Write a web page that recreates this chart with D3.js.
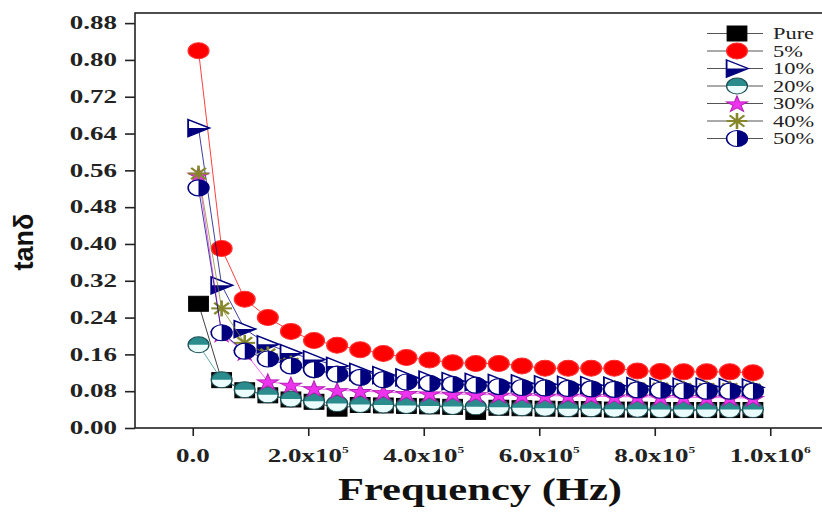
<!DOCTYPE html>
<html>
<head>
<meta charset="utf-8">
<script src="https://cdn.jsdelivr.net/npm/d3@7"></script>
<style>
  body { margin: 0; background: #fff; }
  svg { display: block; }
</style>
</head>
<body>
<svg id="chart" width="822" height="513"></svg>
<script>
// frequency (Hz) of each measured point
const freq = [10000, 50000, 90000, 130000, 170000, 210000, 250000, 290000, 330000,
  370000, 410000, 450000, 490000, 530000, 570000, 610000, 650000, 690000, 730000,
  770000, 810000, 850000, 890000, 930000, 970000];

const seriesNames = ["Pure", "5%", "10%", "20%", "30%", "40%", "50%"];

const pure = [0.27, 0.104, 0.082, 0.071, 0.062, 0.057, 0.042, 0.05, 0.049, 0.048, 0.047, 0.046, 0.035,
  0.044, 0.043, 0.042, 0.041, 0.041, 0.04, 0.04, 0.039, 0.039, 0.039, 0.039, 0.039];
const pct5 = [0.82, 0.39, 0.28, 0.24, 0.21, 0.19, 0.18, 0.17, 0.162, 0.153, 0.148, 0.142, 0.14,
  0.14, 0.135, 0.13, 0.13, 0.13, 0.13, 0.124, 0.123, 0.122, 0.122, 0.122, 0.12];
const pct10 = [0.652, 0.31, 0.215, 0.182, 0.163, 0.149, 0.135, 0.122, 0.115, 0.11, 0.105, 0.102, 0.1,
  0.098, 0.097, 0.095, 0.094, 0.093, 0.092, 0.091, 0.09, 0.09, 0.09, 0.089, 0.088];
const pct20 = [0.181, 0.105, 0.083, 0.072, 0.063, 0.058, 0.053, 0.051, 0.05, 0.049, 0.048, 0.047, 0.046,
  0.045, 0.044, 0.043, 0.042, 0.042, 0.041, 0.041, 0.04, 0.04, 0.04, 0.04, 0.04];
const pct30 = [0.55, 0.205, 0.165, 0.101, 0.094, 0.086, 0.082, 0.08, 0.078, 0.076, 0.075, 0.074, 0.073,
  0.072, 0.071, 0.07, 0.07, 0.069, 0.068, 0.068, 0.067, 0.067, 0.066, 0.066, 0.065];
const pct40 = [0.553, 0.26, 0.185, 0.16, 0.14, 0.125, 0.115, 0.108, 0.103, 0.1, 0.097, 0.095, 0.093,
  0.091, 0.09, 0.089, 0.088, 0.087, 0.087, 0.086, 0.086, 0.085, 0.085, 0.085, 0.084];
const pct50 = [0.522, 0.207, 0.167, 0.15, 0.135, 0.127, 0.117, 0.11, 0.105, 0.1, 0.097, 0.095, 0.093,
  0.09, 0.088, 0.087, 0.086, 0.085, 0.084, 0.083, 0.082, 0.081, 0.08, 0.08, 0.08];

const yTicks = [0, 0.08, 0.16, 0.24, 0.32, 0.40, 0.48, 0.56, 0.64, 0.72, 0.80, 0.88];
const xTicks = [0, 200000, 400000, 600000, 800000, 1000000];
const xTickText = [["0.0", ""], ["2.0x10", "5"], ["4.0x10", "5"], ["6.0x10", "5"], ["8.0x10", "5"], ["1.0x10", "6"]];

const series = [
  { name: seriesNames[0], values: pure, color: "#000000", shape: "square" },
  { name: seriesNames[1], values: pct5, color: "#ff0000", shape: "circle" },
  { name: seriesNames[2], values: pct10, color: "#00007f", shape: "triangle" },
  { name: seriesNames[3], values: pct20, color: "#2a8c8c", shape: "halfTop" },
  { name: seriesNames[4], values: pct30, color: "#ee33ee", shape: "star" },
  { name: seriesNames[5], values: pct40, color: "#86862a", shape: "asterisk" },
  { name: seriesNames[6], values: pct50, color: "#00007f", shape: "halfRight" }
];

// picture is stretched sideways, so text and symbols are too
const stretch = 1.5;
const serif = "'Liberation Serif', 'Times New Roman', serif";

const svg = d3.select("#chart");
const plotLeft = 135, plotRight = 828, plotTop = 13, plotBottom = 428;

const x = d3.scaleLinear().domain([-100000, 1100000]).range([plotLeft, plotRight]);
const y = d3.scaleLinear().domain([0, 0.902]).range([plotBottom, plotTop]);

// frame
svg.append("rect")
  .attr("x", plotLeft).attr("y", plotTop)
  .attr("width", plotRight - plotLeft).attr("height", plotBottom - plotTop)
  .attr("fill", "none").attr("stroke", "#222").attr("stroke-width", 1.6);

svg.append("g")
  .attr("transform", `translate(${plotLeft},0)`)
  .call(d3.axisLeft(y).tickValues(yTicks).tickSize(10).tickFormat(""))
  .call(g => g.select(".domain").remove())
  .selectAll("line").attr("stroke", "#222").attr("stroke-width", 1.6);

svg.append("g")
  .attr("transform", `translate(0,${plotBottom})`)
  .call(d3.axisBottom(x).tickValues(xTicks).tickSize(8).tickFormat(""))
  .call(g => g.select(".domain").remove())
  .selectAll("line").attr("stroke", "#222").attr("stroke-width", 1.6);

let stext = (sel, px, py, k) => sel.append("text")
  .attr("transform", `translate(${px},${py}) scale(${k},1)`);

// y tick labels
yTicks.forEach(v => {
  stext(svg, 117, y(v), stretch)
    .attr("text-anchor", "end")
    .attr("dy", "0.35em")
    .style("font-family", serif).style("font-weight", "bold").style("font-size", "18px")
    .attr("fill", "#222")
    .text(v.toFixed(2));
});

// x tick labels with exponent
xTicks.forEach((v, i) => {
  let t = stext(svg, x(v), 462, stretch)
    .attr("text-anchor", "middle")
    .style("font-family", serif).style("font-weight", "bold").style("font-size", "18px")
    .attr("fill", "#222");
  t.append("tspan").text(xTickText[i][0]);
  if (xTickText[i][1]) {
    t.append("tspan").attr("dy", -9).style("font-size", "9px").text(xTickText[i][1]);
  }
});

// axis titles
stext(svg, 480, 500, 1.33)
  .attr("text-anchor", "middle")
  .style("font-family", serif).style("font-weight", "bold").style("font-size", "32px")
  .attr("fill", "#111")
  .text("Frequency (Hz)");

svg.append("text")
  .attr("transform", "translate(33,242) rotate(-90)")
  .attr("text-anchor", "middle")
  .style("font-family", "'Liberation Sans', Arial, sans-serif").style("font-weight", "bold").style("font-size", "27px")
  .attr("fill", "#111")
  .text("tanδ");

// symbol drawing, unit box about 16px, widened by stretch
let drawMarker = (g, shape, color) => {
  if (shape === "square") {
    g.append("rect").attr("x", -7.5).attr("y", -7.5).attr("width", 15).attr("height", 15)
      .attr("fill", color).attr("stroke", color);
  } else if (shape === "circle") {
    g.append("circle").attr("r", 8).attr("fill", color).attr("stroke", "#ff3030");
  } else if (shape === "triangle") {
    g.append("path").attr("d", "M-8,-8.5L8.5,0L-8,8.5Z").attr("fill", "#fff");
    g.append("path").attr("d", "M-8,0L8.5,0L-8,8.5Z").attr("fill", color);
    g.append("path").attr("d", "M-8,-8.5L8.5,0L-8,8.5Z").attr("fill", "none")
      .attr("stroke", color).attr("stroke-width", 1.4);
  } else if (shape === "halfTop") {
    g.append("circle").attr("r", 8).attr("fill", "#eafcfc");
    g.append("path").attr("d", "M-8,0A8,8 0 0 1 8,0Z").attr("fill", color);
    g.append("circle").attr("r", 8).attr("fill", "none").attr("stroke", "#1d4f55").attr("stroke-width", 1);
  } else if (shape === "halfRight") {
    g.append("circle").attr("r", 8).attr("fill", "#fff");
    g.append("path").attr("d", "M0,-8A8,8 0 0 1 0,8Z").attr("fill", color);
    g.append("circle").attr("r", 8).attr("fill", "none").attr("stroke", color).attr("stroke-width", 1.2);
  } else if (shape === "star") {
    g.append("path").attr("d", d3.symbol().type(d3.symbolStar).size(85)())
      .attr("transform", "translate(0,1)")
      .attr("fill", color).attr("stroke", "#b020b0").attr("stroke-width", 0.8);
  } else if (shape === "asterisk") {
    [0, 45, 90, 135].forEach(a => {
      g.append("line").attr("x1", -8).attr("x2", 8).attr("y1", 0).attr("y2", 0)
        .attr("transform", `rotate(${a})`)
        .attr("stroke", color).attr("stroke-width", 2);
    });
  }
};

const line = d3.line().x((d, i) => x(freq[i])).y(d => y(d));

let plot = svg.append("g");
series.forEach(s => {
  let g = plot.append("g");
  g.append("path")
    .datum(s.values)
    .attr("d", line)
    .attr("fill", "none")
    .attr("stroke", s.color)
    .attr("stroke-opacity", 0.75)
    .attr("stroke-width", 1);
  g.selectAll("g.pt")
    .data(s.values)
    .enter()
    .append("g")
    .attr("class", "pt")
    .attr("transform", (d, i) => `translate(${x(freq[i])},${y(d)}) scale(${1.3},1)`)
    .each(function () { drawMarker(d3.select(this), s.shape, s.color); });
});

// legend
let legend = svg.append("g");
series.forEach((s, i) => {
  let ly = 33.5 + i * 17.5;
  legend.append("line")
    .attr("x1", 707).attr("x2", 763).attr("y1", ly).attr("y2", ly)
    .attr("stroke", "#555").attr("stroke-width", 1);
  let g = legend.append("g").attr("transform", `translate(737,${ly}) scale(1.3,1)`);
  drawMarker(g, s.shape, s.color);
  stext(legend, 773, ly, 1.4)
    .attr("dy", "0.35em")
    .style("font-family", serif).style("font-size", "16px")
    .attr("fill", "#222")
    .text(s.name);
});
</script>
</body>
</html>
